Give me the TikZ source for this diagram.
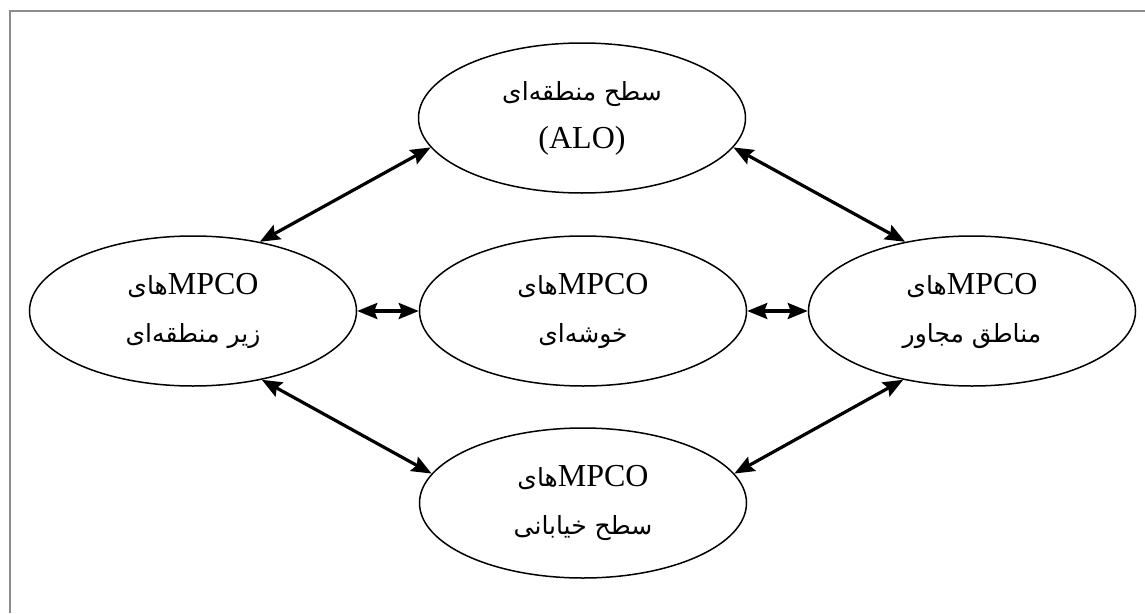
\documentclass[tikz,border=0pt]{standalone}
\usepackage{fontspec}
\setmainfont{Liberation Serif}
\newfontfamily\arabicfont[Script=Arabic]{DejaVu Sans}
\TeXXeTstate=1
\usetikzlibrary{arrows.meta,shapes.geometric}

% Persian text run (right to left)
\newcommand{\fa}[1]{{\arabicfont\fontsize{25}{48}\selectfont\beginR #1\endR}}
% "MPCO-ha" label: Latin acronym followed by the Persian plural suffix
\newcommand{\mpco}{{\arabicfont\fontsize{25}{48}\selectfont\beginR\beginL{\rmfamily\fontsize{32}{48}\selectfont MPCO}\endL های\endR}}

\tikzset{
  level/.style={draw=black, line width=1.5pt, ellipse, minimum width=327pt,
    minimum height=150pt, inner sep=0pt, align=center,
    font=\fontsize{32}{48}\selectfont},
  link/.style={line width=3.2pt, {Stealth[length=20pt,width=16pt,inset=3pt]}-{Stealth[length=20pt,width=16pt,inset=3pt]}},
  frameline/.style={draw=black!45, line width=2pt}
}

\begin{document}
\begin{tikzpicture}[x=1pt,y=-1pt]
  \useasboundingbox (0,0) rectangle (1145,613);
  % open frame: top and left edges
  \draw[frameline] (10,613) -- (10,11) -- (1145,11);

  \node[level] (alo)    at (582,118) {\fa{سطح منطقه^^^^200cای}\\(ALO)};
  \node[level] (sub)    at (193,311) {\mpco\\\fa{زیر منطقه^^^^200cای}};
  \node[level] (clust)  at (583,311) {\mpco\\\fa{خوشه^^^^200cای}};
  \node[level] (adj)    at (972,311) {\mpco\\\fa{مناطق مجاور}};
  \node[level] (street) at (583,503) {\mpco\\\fa{سطح خیابانی}};

  \draw[link] (sub.46)    -- (alo.191);
  \draw[link] (alo.349)   -- (adj.134);
  \draw[link] (sub.east)  -- (clust.west);
  \draw[link] (clust.east) -- (adj.west);
  \draw[link] (sub.315)   -- (street.169);
  \draw[link] (street.11) -- (adj.225);
\end{tikzpicture}
\end{document}
